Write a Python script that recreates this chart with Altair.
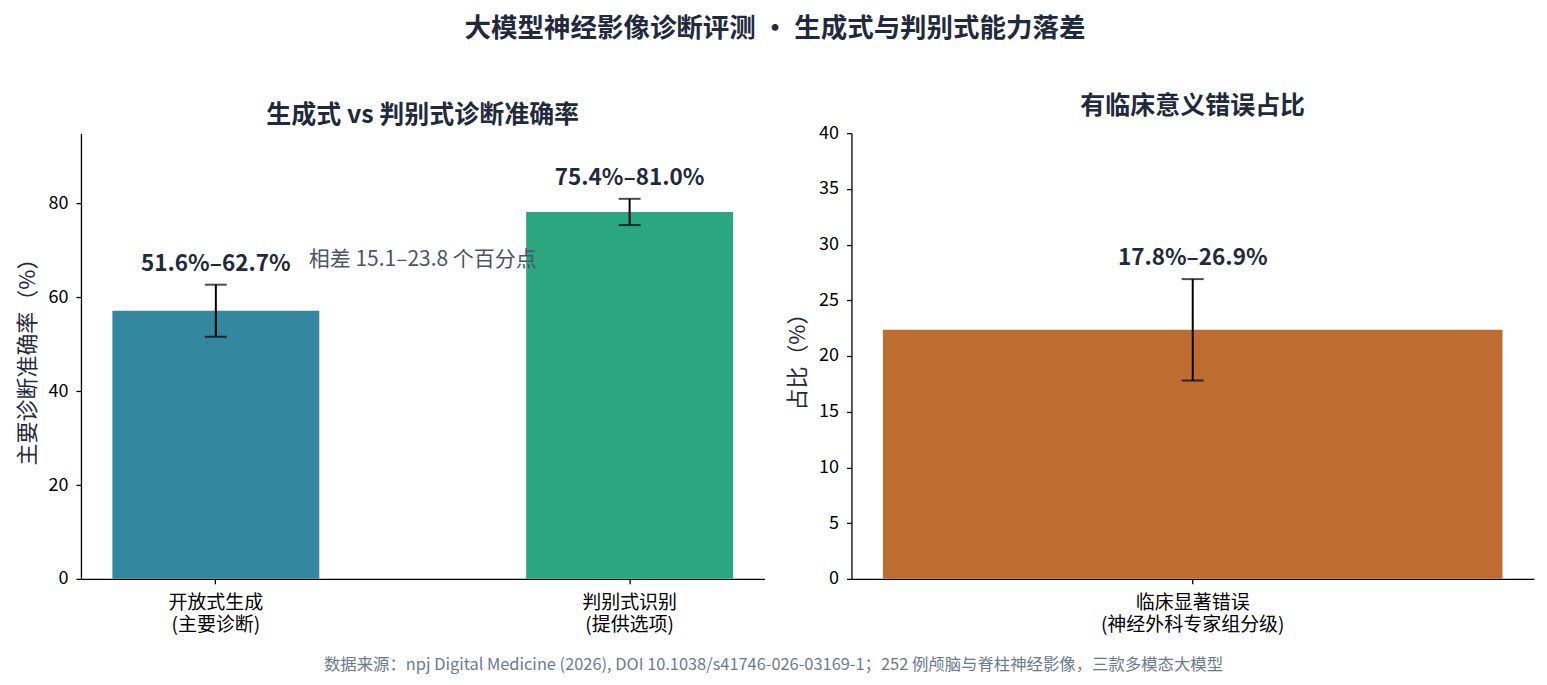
import altair as alt
import pandas as pd

# left panel: diagnostic accuracy
groups = ["开放式生成\n(主要诊断)", "判别式识别\n(提供选项)"]
acc = [57.15, 78.2]
acc_lo = [51.6, 75.4]
acc_hi = [62.7, 81.0]
acc_colors = ["#33879e", "#2ba780"]

# right panel: clinically significant errors
err_cat = ["临床显著错误\n(神经外科专家组分级)"]
err = [22.35]
err_lo = [17.8]
err_hi = [26.9]
err_color = "#bd6d2f"

gap_text = "相差 15.1–23.8 个百分点"
footer = "数据来源：npj Digital Medicine (2026), DOI 10.1038/s41746-026-03169-1；252 例颅脑与脊柱神经影像，三款多模态大模型"

FONT = "Noto Sans CJK SC"
DARK = "#1f2a3c"

left_df = pd.DataFrame({"g": groups, "v": acc, "lo": acc_lo, "hi": acc_hi, "c": acc_colors})
left_df["lab"] = [f"{a}%–{b}%" for a, b in zip(acc_lo, acc_hi)]
right_df = pd.DataFrame({"g": err_cat, "v": err, "lo": err_lo, "hi": err_hi})
right_df["lab"] = [f"{a}%–{b}%" for a, b in zip(err_lo, err_hi)]

xaxis = alt.Axis(title=None, labelAngle=0, labelExpr="split(datum.label, '\\n')", labelLimit=500,
                 labelFontSize=19, labelLineHeight=21.5, labelColor="#000", labelPadding=10)


def panel(df, title, ytitle, ydomain, yticks, color, pin, pout, w):
    x = alt.X("g:N", sort=list(df["g"]), axis=xaxis,
              scale=alt.Scale(paddingInner=pin, paddingOuter=pout))
    y = alt.Y("v:Q", title=ytitle, scale=alt.Scale(domain=ydomain, nice=False, zero=True),
              axis=alt.Axis(values=yticks, grid=False, labelFontSize=18, labelColor="#000",
                            titleFontSize=22, titleFontWeight="normal", titleColor=DARK,
                            titlePadding=9, tickSize=5, labelPadding=8))
    base = alt.Chart(df)
    bars = base.mark_bar().encode(x=x, y=y, color=color)
    rule = base.mark_rule(color="#000", strokeWidth=2).encode(x=x, y="lo:Q", y2="hi:Q")
    caps_lo = base.mark_tick(color="#000", size=22, thickness=2, orient="horizontal").encode(x=x, y="lo:Q")
    caps_hi = base.mark_tick(color="#000", size=22, thickness=2, orient="horizontal").encode(x=x, y="hi:Q")
    labels = base.mark_text(fontSize=22.5, fontWeight="bold", color=DARK, dy=-21, font=FONT).encode(
        x=x, y="hi:Q", text="lab:N")
    return alt.layer(bars, rule, caps_lo, caps_hi, labels).properties(
        width=w, height=446,
        title=alt.TitleParams(title, fontSize=25, fontWeight="bold", color=DARK, offset=5, font=FONT))


left = panel(left_df, "生成式 vs 判别式诊断准确率", "主要诊断准确率（%）", [0, 95], [0, 20, 40, 60, 80],
             alt.Color("c:N", scale=None, legend=None), 0.5, 0.076, 684)

gap = alt.Chart(pd.DataFrame({"t": [gap_text]})).mark_text(
    fontSize=21, color="#4a5568", font=FONT).encode(x=alt.value(342), y=alt.Y(datum=68), text="t:N")
left = alt.layer(left, gap)

right = panel(right_df, "有临床意义错误占比", "占比（%）", [0, 40], list(range(0, 45, 5)),
              alt.value(err_color), 0.0, 0.0508, 683)

top = alt.hconcat(left, right, spacing=22)

foot = alt.Chart(pd.DataFrame({"t": [footer]})).mark_text(
    fontSize=16.4, color="#6b7a90", font=FONT).encode(
    x=alt.value(693), y=alt.value(10), text="t:N").properties(width=1400, height=20)

chart = alt.vconcat(top, foot, spacing=20).properties(
    title=alt.TitleParams("大模型神经影像诊断评测 • 生成式与判别式能力落差", fontSize=26.5, fontWeight="bold",
                          color=DARK, font=FONT, anchor="middle", offset=52),
    padding={"left": 8, "top": 7, "right": 5, "bottom": 5},
).configure_view(stroke=None).configure_axis(
    labelFont=FONT, titleFont=FONT, domainColor="#000", domainWidth=1.3, tickColor="#000", tickWidth=1.3
).configure_axisX(ticks=True, tickSize=5).configure_text(font=FONT)

chart.save("out.html", embed_options={"renderer": "svg", "actions": False})
